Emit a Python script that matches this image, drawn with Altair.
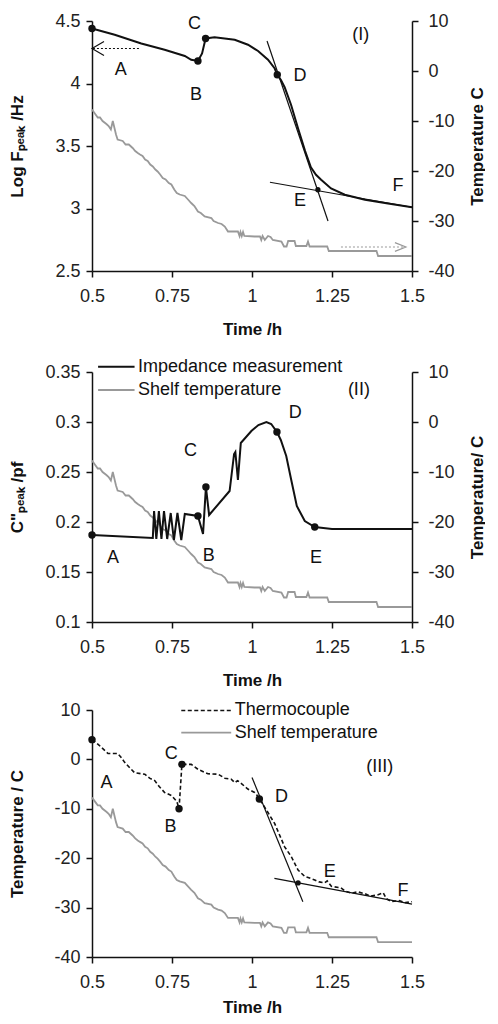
import altair as alt
import pandas as pd

FONT = "Liberation Sans"
BLACK = "#111111"
GRAY = "#999999"

time_ticks = [0.5, 0.75, 1, 1.25, 1.5]
logf_ticks = [2.5, 3, 3.5, 4, 4.5]
cpeak_ticks = [0.1, 0.15, 0.2, 0.25, 0.3, 0.35]
temp_ticks = [-40, -30, -20, -10, 0, 10]

# Shelf temperature (same trace in all three panels)
shelf_time = [0.500, 0.510, 0.518, 0.525, 0.533, 0.545, 0.552, 0.559, 0.565, 0.575, 0.580,
              0.596, 0.605, 0.615, 0.627, 0.635, 0.643, 0.650, 0.658, 0.666, 0.674, 0.682,
              0.690, 0.698, 0.705, 0.713, 0.721, 0.730, 0.740, 0.748, 0.757, 0.765, 0.774,
              0.790, 0.800, 0.810, 0.820, 0.831, 0.840, 0.852, 0.873, 0.880, 0.894, 0.905,
              0.915, 0.925, 0.956, 0.961, 0.964, 0.968, 0.972, 0.976, 1.008, 1.025, 1.029,
              1.033, 1.040, 1.050, 1.058, 1.065, 1.092, 1.100, 1.108, 1.113, 1.133, 1.137,
              1.170, 1.175, 1.180, 1.235, 1.240, 1.389, 1.394, 1.500]
shelf_temp = [-7.7, -8.6, -9.3, -9.3, -10.0, -10.6, -11.0, -11.7, -10.0, -12.7, -13.7,
              -14.0, -14.7, -14.7, -15.4, -16.0, -16.4, -16.7, -17.0, -17.7, -18.0, -18.7,
              -19.1, -19.7, -20.1, -20.7, -21.4, -21.7, -22.4, -22.7, -23.7, -24.4, -24.7,
              -25.0, -25.7, -26.4, -27.0, -28.1, -28.4, -29.1, -29.4, -30.0, -30.4, -30.6,
              -31.1, -32.1, -32.1, -33.0, -32.2, -33.0, -32.2, -33.0, -33.1, -33.1, -33.8,
              -33.0, -33.8, -33.0, -33.2, -33.8, -34.1, -35.1, -35.1, -34.0, -34.0, -35.0,
              -35.0, -34.1, -35.1, -35.1, -36.0, -36.0, -37.0, -37.0]

# Panel I: log peak frequency
logf_time = [0.5, 0.571, 0.654, 0.727, 0.79, 0.81, 0.831, 0.844, 0.855, 0.883, 0.946, 0.9875,
             1.019, 1.05, 1.071, 1.079, 1.09, 1.102, 1.122, 1.144, 1.166, 1.184, 1.2, 1.216,
             1.247, 1.29, 1.353, 1.425, 1.5]
logf_val = [4.44, 4.39, 4.32, 4.27, 4.22, 4.19, 4.18, 4.24, 4.36, 4.37, 4.35, 4.31,
            4.26, 4.19, 4.12, 4.07, 4.03, 3.97, 3.83, 3.64, 3.46, 3.33, 3.27, 3.23,
            3.16, 3.11, 3.07, 3.04, 3.01]
logf_dot_time = [0.5, 0.831, 0.855, 1.079, 1.206]
logf_dot_val = [4.44, 4.18, 4.36, 4.07, 3.15]
dot_size = [55, 55, 55, 55, 28]
logf_tan_id = ["a", "a", "b", "b"]
logf_tan_time = [1.047, 1.2375, 1.056, 1.5]
logf_tan_val = [4.34, 2.90, 3.21, 3.01]
logf_lab_text = ["A", "B", "C", "D", "E", "F", "(I)"]
logf_lab_time = [0.59, 0.825, 0.82, 1.15, 1.15, 1.456, 1.34]
logf_lab_val = [4.11, 3.91, 4.48, 4.06, 3.06, 3.18, 4.39]
arrowL_time = [0.653, 0.503]
arrowL_val = [4.28, 4.28]
arrowR_time = [1.278, 1.478]
arrowR_temp = [-35.2, -35.2]

# Panel II: C'' peak
cp_time = [0.500, 0.690, 0.694, 0.701, 0.709, 0.717, 0.725, 0.735, 0.746, 0.756, 0.767,
           0.779, 0.790, 0.831, 0.847, 0.856, 0.866, 0.930, 0.944, 0.948, 0.956, 0.965,
           0.998, 1.020, 1.045, 1.060, 1.078, 1.090, 1.107, 1.122, 1.140, 1.165, 1.196,
           1.250, 1.500]
cp_val = [0.187, 0.184, 0.211, 0.183, 0.211, 0.183, 0.211, 0.183, 0.209, 0.182, 0.209,
          0.182, 0.208, 0.206, 0.188, 0.235, 0.207, 0.231, 0.268, 0.270, 0.242, 0.279,
          0.291, 0.297, 0.300, 0.298, 0.290, 0.282, 0.266, 0.243, 0.216, 0.201, 0.195,
          0.193, 0.193]
cp_dot_time = [0.5, 0.831, 0.856, 1.078, 1.196]
cp_dot_val = [0.187, 0.206, 0.235, 0.290, 0.195]
cp_dot_size = [55, 55, 55, 55, 55]
cp_lab_text = ["A", "B", "C", "D", "E", "(II)"]
cp_lab_time = [0.566, 0.865, 0.808, 1.135, 1.2, 1.334]
cp_lab_val = [0.164, 0.166, 0.271, 0.309, 0.164, 0.332]
cp_leg_text = ["Impedance measurement", "Shelf temperature"]
cp_leg_val = [0.3553, 0.332]

# Panel III: thermocouple
tc_time = [0.500, 0.520, 0.550, 0.580, 0.590, 0.602, 0.615, 0.633, 0.665, 0.680, 0.696,
           0.710, 0.727, 0.748, 0.765, 0.772, 0.781, 0.810, 0.831, 0.862, 0.894, 0.915,
           0.935, 0.946, 0.955, 0.967, 0.987, 1.008, 1.015, 1.023, 1.040, 1.071, 1.102,
           1.123, 1.144, 1.165, 1.180, 1.196, 1.210, 1.227, 1.235, 1.248, 1.278, 1.290,
           1.310, 1.330, 1.353, 1.370, 1.394, 1.410, 1.420, 1.436, 1.460, 1.480, 1.500]
tc_temp = [4.0, 3.0, 1.2, 1.2, 0.5, -0.6, -1.5, -2.7, -3.0, -3.8, -4.3,
           -5.5, -6.7, -7.3, -8.5, -10.0, -1.0, -1.0, -2.0, -2.9, -3.0, -3.8,
           -4.0, -4.7, -4.3, -4.9, -6.0, -6.7, -7.2, -8.0, -9.7, -13.0, -17.7,
           -19.7, -22.4, -23.7, -24.0, -24.4, -24.8, -25.0, -24.6, -25.7, -26.0, -26.6,
           -27.1, -26.8, -27.2, -27.7, -27.4, -27.0, -28.2, -28.8, -28.6, -29.0, -28.8]
tc_dot_time = [0.5, 0.772, 0.781, 1.023, 1.144]
tc_dot_temp = [4.0, -10.0, -1.0, -8.0, -25.0]
tc_tan_id = ["a", "a", "b", "b"]
tc_tan_time = [1.0, 1.159, 1.07, 1.5]
tc_tan_temp = [-3.65, -28.8, -24.1, -29.3]
tc_lab_text = ["A", "B", "C", "D", "E", "F", "(III)"]
tc_lab_time = [0.545, 0.745, 0.748, 1.092, 1.243, 1.472, 1.399]
tc_lab_temp = [-4.7, -13.7, 1.0, -7.7, -22.7, -26.7, -1.6]
tc_leg_text = ["Thermocouple", "Shelf temperature"]
tc_leg_temp = [9.9, 5.4]

LEG_LINE_P2 = [0.519, 0.633]
LEG_TEXT_P2 = 0.644
LEG_LINE_P3 = [0.779, 0.935]
LEG_TEXT_P3 = 0.946

W = 320


def X(title_pad=16):
    return alt.X("t:Q", scale=alt.Scale(domain=[0.5, 1.5], nice=False, zero=False),
                 axis=alt.Axis(values=time_ticks, title="Time /h", labelFlush=False,
                               labelPadding=10, titlePadding=title_pad,
                               labelExpr="'' + datum.value"))


def Y(field, domain, ticks, title, orient, title_x):
    return alt.Y(f"{field}:Q", scale=alt.Scale(domain=domain, nice=False, zero=False),
                 axis=alt.Axis(values=ticks, title=title, orient=orient, labelFlush=False,
                               labelPadding=6 if orient == "left" else 10,
                               labelExpr="'' + datum.value", titleX=title_x,
                               titleAngle=270, titleAlign="center",
                               titleBaseline="middle"))


def line(df, x, y, color, width=2.0, dash=None, detail=None):
    kw = dict(color=color, strokeWidth=width, clip=False)
    if dash:
        kw["strokeDash"] = dash
    enc = dict(x=x, y=y)
    if detail:
        enc["detail"] = detail
    return alt.Chart(df).mark_line(**kw).encode(**enc)


def dots(df, x, y):
    return alt.Chart(df).mark_circle(color=BLACK, opacity=1).encode(
        x=x, y=y, size=alt.Size("s:Q", scale=None))


def texts(df, x, y, align="center", size=18):
    return alt.Chart(df).mark_text(font=FONT, fontSize=size, color=BLACK, align=align,
                                   baseline="middle").encode(x=x, y=y, text="label:N")


def head(df, x, y, path, size, color):
    return alt.Chart(df).mark_point(shape=path, size=size, filled=False, color=color,
                                    strokeWidth=1.2, opacity=1).encode(x=x, y=y)


shelf_df = pd.DataFrame({"t": shelf_time, "T": shelf_temp})
LEFT_TX = -75
RIGHT_TX = 65

# ---------------- Panel I ----------------
X1 = lambda: X(16)
Y1 = lambda: Y("v", [2.5, 4.5], logf_ticks, "Log F\u209a\u2091\u2090\u2096 /Hz", "left", LEFT_TX)
YT1 = lambda: Y("T", [-40, 10], temp_ticks, "Temperature C", "right", RIGHT_TX)

p1_left = alt.layer(
    line(pd.DataFrame({"t": logf_time, "v": logf_val}), X1(), Y1(), BLACK, 2.0),
    line(pd.DataFrame({"t": logf_tan_time, "v": logf_tan_val, "id": logf_tan_id}), X1(), Y1(),
         BLACK, 1.2, detail="id:N"),
    line(pd.DataFrame({"t": arrowL_time, "v": arrowL_val}), X1(), Y1(), BLACK, 1.0, dash=[2, 2]),
    head(pd.DataFrame({"t": [0.5], "v": [4.28]}), X1(), Y1(), "M2,-1.15L0,0L2,1.15", 144, BLACK),
    dots(pd.DataFrame({"t": logf_dot_time, "v": logf_dot_val, "s": dot_size}), X1(), Y1()),
    texts(pd.DataFrame({"t": logf_lab_time, "v": logf_lab_val, "label": logf_lab_text}), X1(), Y1()),
)
p1_right = alt.layer(
    line(shelf_df, X1(), YT1(), GRAY, 1.8),
    line(pd.DataFrame({"t": arrowR_time, "T": arrowR_temp}), X1(), YT1(), GRAY, 1.0, dash=[2, 2]),
    head(pd.DataFrame({"t": [1.481], "T": [-35.2]}), X1(), YT1(), "M-2,-0.8L0,0L-2,0.8", 121, GRAY),
)
panel1 = alt.layer(p1_right, p1_left).resolve_scale(y="independent").properties(width=W, height=250)

# ---------------- Panel II ----------------
X2 = lambda: X(16)
Y2 = lambda: Y("v", [0.1, 0.35], cpeak_ticks, "C\"\u209a\u2091\u2090\u2096 /pf", "left", LEFT_TX)
YT2 = lambda: Y("T", [-40, 10], temp_ticks, "Temperature/ C", "right", RIGHT_TX)

leg2_lines = pd.DataFrame({
    "t": LEG_LINE_P2 + LEG_LINE_P2,
    "v": [cp_leg_val[0]] * 2 + [cp_leg_val[1]] * 2,
    "id": ["a", "a", "b", "b"],
})
p2_left = alt.layer(
    line(pd.DataFrame({"t": cp_time, "v": cp_val}), X2(), Y2(), BLACK, 2.0),
    dots(pd.DataFrame({"t": cp_dot_time, "v": cp_dot_val, "s": cp_dot_size}), X2(), Y2()),
    texts(pd.DataFrame({"t": cp_lab_time, "v": cp_lab_val, "label": cp_lab_text}), X2(), Y2()),
    line(leg2_lines[leg2_lines.id == "a"], X2(), Y2(), BLACK, 2.0),
    line(leg2_lines[leg2_lines.id == "b"], X2(), Y2(), GRAY, 1.8),
    texts(pd.DataFrame({"t": [LEG_TEXT_P2] * 2, "v": cp_leg_val, "label": cp_leg_text}),
          X2(), Y2(), align="left"),
)
p2_right = alt.layer(line(shelf_df, X2(), YT2(), GRAY, 1.8))
panel2 = alt.layer(p2_right, p2_left).resolve_scale(y="independent").properties(width=W, height=250)

# ---------------- Panel III ----------------
X3 = lambda: X(8)
Y3 = lambda: Y("T", [-40, 10], temp_ticks, "Temperature / C", "left", LEFT_TX)
leg3_lines = pd.DataFrame({
    "t": LEG_LINE_P3 + LEG_LINE_P3,
    "T": [tc_leg_temp[0]] * 2 + [tc_leg_temp[1]] * 2,
    "id": ["a", "a", "b", "b"],
})
panel3 = alt.layer(
    line(shelf_df, X3(), Y3(), GRAY, 1.8),
    line(pd.DataFrame({"t": tc_tan_time, "T": tc_tan_temp, "id": tc_tan_id}), X3(), Y3(),
         BLACK, 1.2, detail="id:N"),
    line(pd.DataFrame({"t": tc_time, "T": tc_temp}), X3(), Y3(), BLACK, 1.6, dash=[4, 2.5]),
    dots(pd.DataFrame({"t": tc_dot_time, "T": tc_dot_temp, "s": dot_size}), X3(), Y3()),
    texts(pd.DataFrame({"t": tc_lab_time, "T": tc_lab_temp, "label": tc_lab_text}), X3(), Y3()),
    line(leg3_lines[leg3_lines.id == "a"], X3(), Y3(), BLACK, 1.6, dash=[4, 2.5]),
    line(leg3_lines[leg3_lines.id == "b"], X3(), Y3(), GRAY, 1.8),
    texts(pd.DataFrame({"t": [LEG_TEXT_P3] * 2, "T": tc_leg_temp, "label": tc_leg_text}),
          X3(), Y3(), align="left"),
).properties(width=W, height=247)

top_two = alt.vconcat(panel1, panel2, spacing=20)
chart = alt.vconcat(top_two, panel3, spacing=13).properties(
    padding={"left": 0, "top": 4, "right": 0, "bottom": 0}
).configure_view(stroke=None).configure_axis(
    labelFont=FONT, titleFont=FONT, labelFontSize=18, titleFontSize=17,
    titleFontWeight="bold", labelColor="#222222", titleColor="#111111",
    domainColor="#111111", tickColor="#111111", domainWidth=1.5, tickWidth=1.5,
    tickSize=6, grid=False
)

chart.save("out.html", embed_options={"renderer": "svg", "actions": False})
